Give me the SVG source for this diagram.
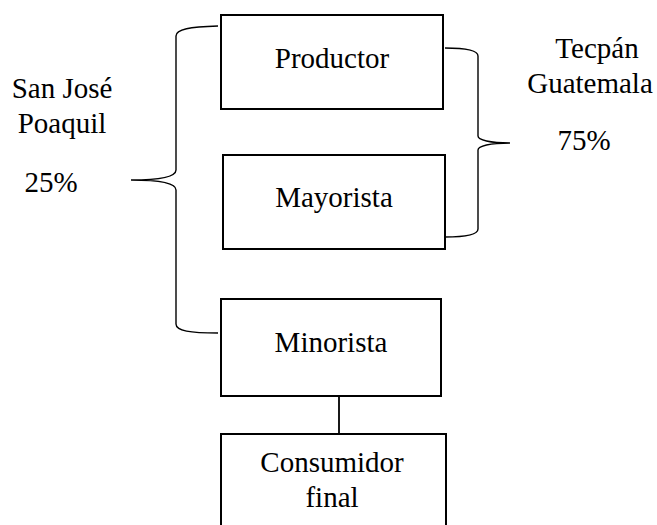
<svg xmlns="http://www.w3.org/2000/svg" width="657" height="525" viewBox="0 0 657 525">
<style>
.box{fill:#fff;stroke:#000;stroke-width:2}
.brace{fill:none;stroke:#000;stroke-width:1.4}
.line{fill:none;stroke:#000;stroke-width:1.8}
.t{font-family:"Liberation Serif","Times New Roman",Times,serif;font-size:29px;fill:#000;text-anchor:middle}
</style>
<rect width="657" height="525" fill="#fff"/>
<g id="connectors">
<path class="brace" d="M218,26 C190,27 176,29 176,36 L176,170 C176,177 160,180 131,180 C160,180 176,183 176,190 L176,324 C176,331 190,333 218,333"/>
<path class="brace" d="M445,48 C466,48 478,50 478,56 L478,136 C478,140 490,143 510,143 C490,143 478,146 478,150 L478,229 C478,235 466,237 445,237"/>
<line class="line" x1="339" y1="396" x2="339" y2="434"/>
</g>
<g id="productor"><rect class="box" x="221" y="15" width="222" height="94"/><text class="t" x="332" y="68">Productor</text></g>
<g id="mayorista"><rect class="box" x="223" y="155" width="222" height="94"/><text class="t" x="334" y="207">Mayorista</text></g>
<g id="minorista"><rect class="box" x="221" y="299" width="220" height="97"/><text class="t" x="331" y="352">Minorista</text></g>
<g id="consumidor"><rect class="box" x="221" y="434" width="225" height="100"/><text class="t" x="332" y="472">Consumidor</text><text class="t" x="332" y="507">final</text></g>
<g id="sanjose"><text class="t" x="62" y="98">San José</text><text class="t" x="62" y="133">Poaquil</text><text class="t" x="51" y="192">25%</text></g>
<g id="tecpan"><text class="t" x="597" y="58">Tecpán</text><text class="t" x="590" y="93">Guatemala</text><text class="t" x="584" y="150">75%</text></g>
</svg>
